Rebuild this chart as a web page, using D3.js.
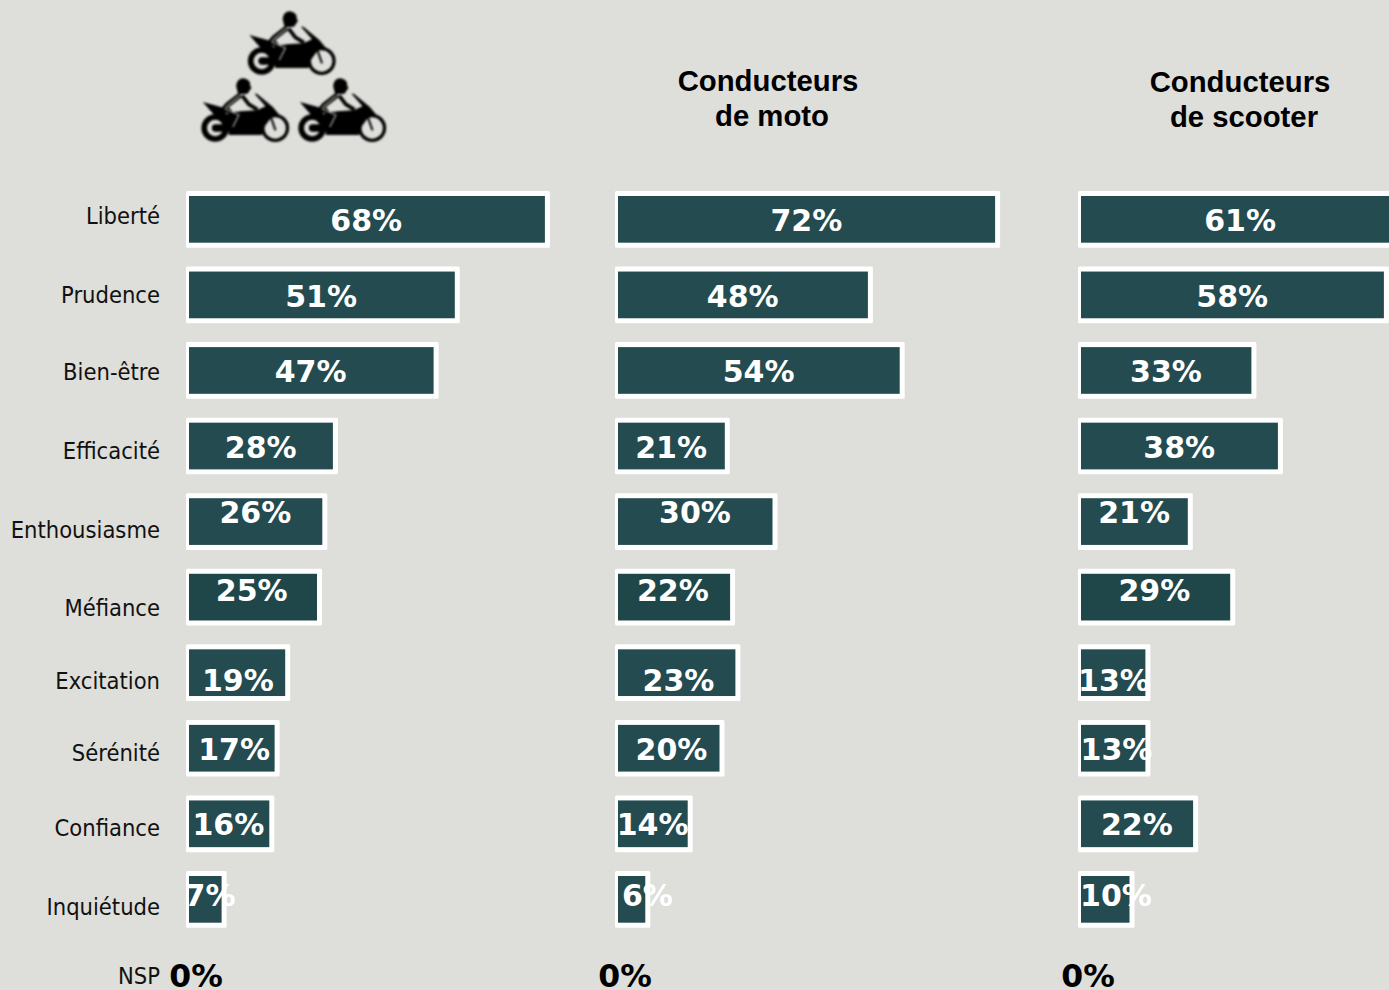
<!DOCTYPE html>
<html><head><meta charset="utf-8">
<script src="https://cdn.jsdelivr.net/npm/d3@7/dist/d3.min.js"></script>
<style>html,body{margin:0;padding:0;background:#dededa;overflow:hidden}svg{display:block}</style>
</head><body><div id="c"></div>
<script>
const categories=["Liberté","Prudence","Bien-être","Efficacité","Enthousiasme","Méfiance","Excitation","Sérénité","Confiance","Inquiétude"];
const ensemble=[68,51,47,28,26,25,19,17,16,7];
const moto=[72,48,54,21,30,22,23,20,14,6];
const scooter=[61,58,33,38,21,29,13,13,22,10];
const nspLabel="NSP";
const nspValue=0;
// layout nudges (px), separate from the data
const categoryNudge=[-4,0,1.5,5,8,10.5,8,4,3.5,7];
const valueNudgeY=[1,1,0.5,1,-9,-7,8,1,0.5,-4];
const valueNudgeX=[[-1.5,-1.5,-1.5,-1,-1,-2,0,1.5,-1.5,4],[-1,-1,-1,-1,-1,-2,1,2,-1,15],[-1,-1,-1,-1,-1,-2,0,2.5,-1,10]];
const W=1389,H=990;
const svg=d3.select("#c").append("svg").attr("width",W).attr("height",H);
svg.append("rect").attr("width",W).attr("height",H).attr("fill","#dededa");
const y=d3.scaleBand().domain(categories).range([191,927.7]).paddingInner(0.2495).paddingOuter(0);
const panels=[{x0:186,vals:ensemble},{x0:615,vals:moto},{x0:1078,vals:scooter}];
const x=d3.scaleLinear().domain([0,100]).range([0,530]);
const valFont="'DejaVu Sans',sans-serif", catFont="'DejaVu Sans Condensed','DejaVu Sans',sans-serif";
panels.forEach((p,pi)=>{
  const g=svg.append("g");
  const rows=g.selectAll("g").data(categories.map((c,i)=>({c,v:p.vals[i],i}))).join("g");
  rows.append("rect").attr("x",p.x0).attr("y",d=>y(d.c)).attr("width",d=>x(d.v)+3.5).attr("height",y.bandwidth()).attr("fill","#fff").attr("rx",1.5);
  rows.append("rect").attr("x",p.x0+3).attr("y",d=>y(d.c)+5).attr("width",d=>x(d.v)-4.5).attr("height",y.bandwidth()-10).attr("fill",d=>d.i==5?"#1f474a":"#234b50");
  rows.append("text").attr("x",d=>p.x0+x(d.v)/2+1.5+valueNudgeX[pi][d.i]).attr("y",d=>y(d.c)+y.bandwidth()/2+valueNudgeY[d.i]).attr("dy","0.36em")
    .attr("text-anchor","middle").attr("fill","#fff").attr("font-family",valFont).attr("font-weight","bold").attr("font-size",30).text(d=>d.v+"%");
  g.append("text").attr("x",p.x0+10).attr("y",976).attr("dy","0.36em").attr("text-anchor","middle").attr("font-family",valFont).attr("font-weight","bold").attr("font-size",31.5).attr("fill","#000").text(nspValue+"%");
});
svg.append("g").selectAll("text").data(categories).join("text").attr("x",160).attr("y",(d,i)=>y(d)+y.bandwidth()/2+categoryNudge[i]).attr("dy","0.36em")
  .attr("text-anchor","end").attr("font-family",catFont).attr("font-size",23.5).attr("fill","#111").text(d=>d);
svg.append("text").attr("x",160).attr("y",976).attr("dy","0.36em").attr("text-anchor","end").attr("font-family",catFont).attr("font-size",23.5).attr("fill","#111").text(nspLabel);
const titles=[{x:768,t:"Conducteurs",y:80},{x:772,t:"de moto",y:115},{x:1240,t:"Conducteurs",y:81},{x:1244,t:"de scooter",y:116}];
svg.append("g").selectAll("text").data(titles).join("text").attr("x",d=>d.x).attr("y",d=>d.y).attr("dy","0.36em").attr("text-anchor","middle")
  .attr("font-family","'Liberation Sans',Arial,sans-serif").attr("font-weight","bold").attr("font-size",29.3).attr("fill","#000").text(d=>d.t);
// motorcycle icon, drawn in 1/3 px units
const defs=svg.append("defs");
const m=defs.append("g").attr("id","moto");
m.append("circle").attr("cx",65).attr("cy",165).attr("r",33).attr("fill","none").attr("stroke","#000").attr("stroke-width",17);
m.append("path").attr("d","M105,154 L66,154 A11,11 0 1 0 66,176 L105,176 Z").attr("fill","#000");
m.append("circle").attr("cx",245).attr("cy",165).attr("r",37).attr("fill","none").attr("stroke","#000").attr("stroke-width",10);
m.append("path").attr("d","M232,132 L246,172").attr("stroke","#000").attr("stroke-width",6);
m.append("path").attr("d","M28,87 L85,103 L100,124 L140,115 L190,112 L216,100 L183,62 L190,62 L238,102 L258,126 L236,130 L214,160 L206,186 L106,186 L102,150 L62,126 Z").attr("fill","#000");
m.append("path").attr("d","M128,40 Q130,16 150,16 Q172,20 170,38 L174,44 L162,62 L134,64 Z").attr("fill","#000");
m.append("path").attr("d","M140,66 L102,96 L92,108 L134,126 L116,164").attr("fill","none").attr("stroke","#000").attr("stroke-width",16);
m.append("path").attr("d","M146,68 L166,94 L192,110").attr("fill","none").attr("stroke","#000").attr("stroke-width",11);
m.append("path").attr("d","M138,68 L102,98 L96,108 L136,126 L118,162").attr("fill","none").attr("stroke","#9c9c98").attr("stroke-width",4);
m.append("path").attr("d","M146,84 L150,112 L118,118 L110,106 Z").attr("fill","#dededa");
[[0,1],[-46.5,68],[50.5,68]].forEach(t=>{
  svg.append("g").attr("transform",`translate(${240+t[0]},${5+t[1]}) scale(${1/3})`).style("filter","blur(2.4px)").append("use").attr("href","#moto");
});
</script></body></html>
